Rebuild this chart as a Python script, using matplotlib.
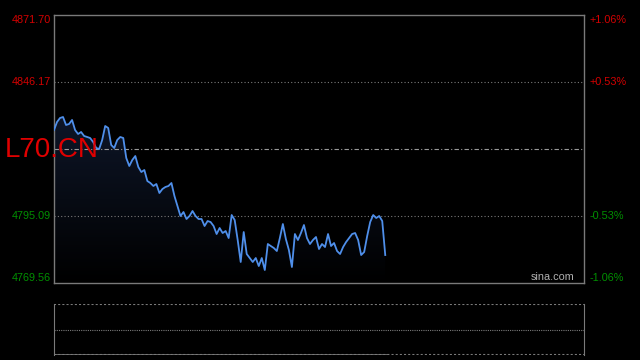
import numpy as np
import matplotlib.pyplot as plt
from matplotlib.patches import Polygon

# intraday prices (session only partly elapsed)
prices = [
    4827.87, 4830.92, 4832.45, 4832.83, 4829.78, 4830.16, 4831.69, 4827.87, 4826.35, 4827.11,
    4825.59, 4825.21, 4824.82, 4823.30, 4821.01, 4820.63, 4824.06, 4829.40, 4828.64, 4822.16,
    4821.01, 4824.06, 4825.21, 4824.82, 4817.20, 4814.15, 4816.44, 4817.96, 4813.77, 4811.86,
    4812.63, 4808.43, 4807.67, 4806.53, 4807.29, 4803.86, 4805.38, 4806.15, 4806.53, 4807.67,
    4802.71, 4798.90, 4795.09, 4796.62, 4793.95, 4795.09, 4797.00, 4795.09, 4793.95, 4793.95,
    4791.28, 4793.18, 4792.80, 4791.28, 4788.23, 4790.52, 4788.61, 4789.37, 4786.70, 4795.47,
    4793.57, 4785.94, 4777.56, 4788.99, 4780.61, 4779.08, 4777.56, 4779.08, 4776.03, 4779.08,
    4774.51, 4784.42, 4783.65, 4782.89, 4781.75, 4786.70, 4792.04, 4786.32, 4782.13, 4775.65,
    4788.23, 4785.94, 4788.61, 4791.66, 4786.70, 4784.42, 4785.94, 4787.09, 4782.51, 4784.42,
    4783.27, 4788.23, 4783.65, 4784.80, 4781.75, 4780.61, 4783.27, 4785.18, 4786.70, 4788.23,
    4788.61, 4785.94, 4780.22, 4781.37, 4787.47, 4792.80, 4795.47, 4794.33, 4795.09, 4793.18,
    4780.22,
]
total_points = 177
prev_close = 4820.63
left_ticks = [4769.56, 4795.09, 4820.63, 4846.17, 4871.70]
left_labels = ['4769.56', '4795.09', '', '4846.17', '4871.70']
right_labels = ['-1.06%', '-0.53%', '', '+0.53%', '+1.06%']
symbol = 'L70.CN'

RED = '#d40000'
GREEN = '#009000'
GRAY = '#7a7a7a'
FONT = 'Liberation Sans'

fig = plt.figure(figsize=(6.4, 3.6), dpi=100, facecolor='black')
ax = fig.add_axes([54 / 640, 1 - 283 / 360, 530 / 640, 268 / 360], facecolor='black')
ax.set_xlim(0, total_points - 1)
ax.set_ylim(left_ticks[0], left_ticks[-1])

x = np.arange(len(prices))
y = np.array(prices)

# gradient fill under the price line
grad = np.linspace(1, 0, 256).reshape(-1, 1)
cmap = plt.matplotlib.colors.LinearSegmentedColormap.from_list('g', ['#000000', '#0e1628'])
img = ax.imshow(grad, aspect='auto', cmap=cmap, extent=[0, x[-1], left_ticks[0], y.max()],
                origin='upper', zorder=1)
poly = Polygon(np.column_stack([np.r_[x, x[-1], 0], np.r_[y, left_ticks[0], left_ticks[0]]]),
               closed=True, facecolor='none', edgecolor='none')
ax.add_patch(poly)
img.set_clip_path(poly)
ax.plot(x, y, color='#4f8fea', lw=1.3, zorder=3)

for v in (left_ticks[1], left_ticks[3]):
    ax.axhline(v, color=GRAY, lw=0.8, ls=(0, (1, 2)), zorder=2)
ax.axhline(prev_close, color='#9a9a9a', lw=0.8, ls=(0, (4, 2, 1, 2)), zorder=2)

for s in ax.spines.values():
    s.set_color(GRAY)
    s.set_linewidth(1)
ax.set_xticks([])
ax.set_yticks([])

# edge labels sit about 5px inside the frame
edge = 5 * (left_ticks[-1] - left_ticks[0]) / 268
for v, ll, rl in zip(left_ticks, left_labels, right_labels):
    if not ll:
        continue
    c = RED if v > prev_close else GREEN
    if v == left_ticks[-1]:
        v = v - edge
    elif v == left_ticks[0]:
        v = v + edge
    ax.text(-0.006, v, ll, transform=ax.get_yaxis_transform(), ha='right', va='center',
            color=c, fontsize=7.8, family=FONT)
    ax.text(1.011, v, rl, transform=ax.get_yaxis_transform(), ha='left', va='center',
            color=c, fontsize=7.8, family=FONT)

ax.text(0.982, 0.004, 'sina.com', transform=ax.transAxes, ha='right', va='bottom',
        color='#b0b0b0', fontsize=7.8, family=FONT)

fig.text(5 / 640, 1 - 150 / 360, symbol, ha='left', va='center', color='#e00000',
         fontsize=20, family=FONT, zorder=10)

# volume panel (empty)
vax = fig.add_axes([54 / 640, 1 - 355 / 360, 530 / 640, 51 / 360], facecolor='black')
vax.set_xlim(0, total_points - 1)
vax.set_ylim(0, 2)
vax.axhline(1, color=GRAY, lw=0.8, ls=(0, (1, 1)))
vax.axhline(2, color=GRAY, lw=1.5, ls=(0, (1, 1)))
vax.axhline(0, color=GRAY, lw=1.5, ls=(0, (1, 1)))
vax.plot([0, len(prices)], [0, 0], color=GRAY, lw=1.2)
for k in ('top', 'bottom'):
    vax.spines[k].set_visible(False)
for k in ('left', 'right'):
    vax.spines[k].set_color(GRAY)
vax.set_xticks([])
vax.set_yticks([])

fig.savefig('out.png', dpi=100, facecolor='black')
